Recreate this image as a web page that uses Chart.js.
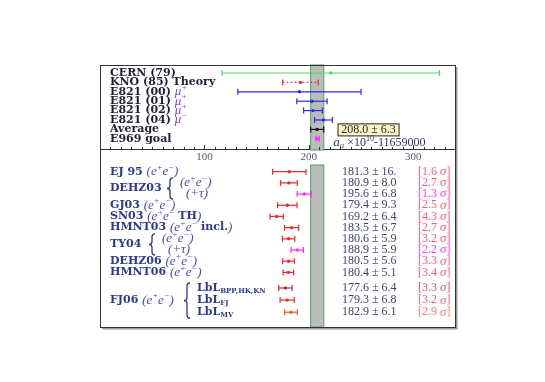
<!DOCTYPE html>
<html>
<head>
<meta charset="utf-8">
<script src="https://cdn.jsdelivr.net/npm/chart.js@4.4.0/dist/chart.umd.min.js"></script>
<style>
html, body { margin: 0; padding: 0; background: #fff; }
#wrap { width: 545px; height: 382px; }
</style>
</head>
<body>
<div id="wrap"><canvas id="g2Chart" width="545" height="382"></canvas></div>
<script>
// measurements (upper block)
let topNames = ["CERN (79)", "KNO (85) Theory", "E821 (00)", "E821 (01)", "E821 (02)", "E821 (04)", "Average", "E969 goal"]
let topMu = ["", "", "+", "+", "+", "−", "", ""]
let topValues = [221, 192, 191, 203, 204, 214, 208, 208.3]
let topErrors = [104, 17, 59, 14.5, 9, 8.5, 6.3, 1.6]
let topColors = ["#4ddd4d", "#ee2a2a", "#2a2aee", "#2a2aee", "#2a2aee", "#2a2aee", "#111111", "#ff2aff"]
let average = 208.0
let averageErr = 6.3

// theory predictions (lower block)
let bottomValues = [181.3, 180.9, 195.6, 179.4, 169.2, 183.5, 180.6, 188.9, 180.5, 180.4, 177.6, 179.3, 182.9]
let bottomErrors = [16, 8.0, 6.8, 9.3, 6.4, 6.7, 5.9, 5.9, 5.6, 5.1, 6.4, 6.8, 6.1]
let bottomSigma = [1.6, 2.7, 1.3, 2.5, 4.3, 2.7, 3.2, 2.2, 3.3, 3.4, 3.3, 3.2, 2.9]
let bottomColors = ["#ee2a2a", "#ee2a2a", "#ff2aff", "#ee2a2a", "#ee2a2a", "#ee2a2a", "#ee2a2a", "#ff2aff", "#ee2a2a", "#ee2a2a", "#a83838", "#ee2a2a", "#ff5a30"]
let sigmaColors = ["#ff5a78", "#ff5a78", "#ff3cff", "#ff5a78", "#ff5a78", "#ff5a78", "#ff5a78", "#ff3cff", "#ff5a78", "#ff5a78", "#c85a78", "#ff5a78", "#ff7a68"]

let xTicks = [100, 200, 300]

// row positions on the hidden y scale
let axisRow = 8.19
function bottomRow(j) {
    return j < 10 ? 10.5 + 1.19 * j : 22.87 + 1.29 * (j - 10)
}

let navy = "#2c3896"
let ink = "#1e1e3a"
let lightBlue = "#4a4ac0"
let bold = "bold 11px 'DejaVu Serif'"
let ital = "italic 13px 'Liberation Serif'"
let supItal = "italic 8.5px 'Liberation Serif'"
let roman = "12px 'Liberation Serif'"

function rich(ctx, x, y, segs) {
    ctx.textBaseline = "middle"
    ctx.textAlign = "left"
    segs.forEach(s => {
        ctx.font = s.f
        ctx.fillStyle = s.c
        ctx.fillText(s.t, x, y + (s.dy || 0))
        x += ctx.measureText(s.t).width
    })
    return x
}

// "(e+e-" pieces with real superscripts
function eeSegs(close) {
    let s = [
        { t: "(e", f: ital, c: lightBlue },
        { t: "+", f: supItal, c: lightBlue, dy: -4 },
        { t: "e", f: ital, c: lightBlue },
        { t: "−", f: supItal, c: lightBlue, dy: -4 }
    ]
    if (close) s.push({ t: ")", f: ital, c: lightBlue })
    return s
}

function brace(ctx, x, y0, y1, color) {
    let ym = (y0 + y1) / 2
    ctx.save()
    ctx.strokeStyle = color
    ctx.lineWidth = 1.3
    ctx.beginPath()
    ctx.moveTo(x + 3, y0)
    ctx.quadraticCurveTo(x, y0, x, y0 + 3)
    ctx.lineTo(x, ym - 3)
    ctx.quadraticCurveTo(x, ym, x - 3, ym)
    ctx.quadraticCurveTo(x, ym, x, ym + 3)
    ctx.lineTo(x, y1 - 3)
    ctx.quadraticCurveTo(x, y1, x + 3, y1)
    ctx.stroke()
    ctx.restore()
}

let g2Layers = {
    id: "g2Layers",
    beforeDatasetsDraw(chart) {
        let ctx = chart.ctx
        let xs = chart.scales.x
        let ys = chart.scales.y
        let a = chart.chartArea
        let xl = xs.getPixelForValue(average - averageErr)
        let xr = xs.getPixelForValue(average + averageErr)
        let yAxis = ys.getPixelForValue(axisRow)
        let yLow = ys.getPixelForValue(9.79)
        ctx.save()
        // average band
        ctx.fillStyle = "#bcbcbc"
        ctx.strokeStyle = "#5fae74"
        ctx.lineWidth = 1.2
        ctx.fillRect(xl, a.top, xr - xl, yAxis - a.top)
        ctx.strokeRect(xl, a.top, xr - xl, yAxis - a.top)
        ctx.fillRect(xl, yLow, xr - xl, a.bottom - yLow)
        ctx.strokeRect(xl, yLow, xr - xl, a.bottom - yLow)
        // frame with shadow
        ctx.fillStyle = "#9a9a9a"
        ctx.fillRect(a.right, a.top + 2, 2.5, a.bottom - a.top)
        ctx.fillRect(a.left + 2, a.bottom, a.right - a.left + 0.5, 2.5)
        ctx.strokeStyle = "#333"
        ctx.lineWidth = 1
        ctx.strokeRect(a.left + 0.5, a.top + 0.5, a.right - a.left, a.bottom - a.top)
        // error bars
        chart.data.datasets.forEach(ds => {
            ds.data.forEach((p, i) => {
                let x0 = xs.getPixelForValue(p.x - ds.errors[i])
                let x1 = xs.getPixelForValue(p.x + ds.errors[i])
                let y = ys.getPixelForValue(p.y)
                ctx.strokeStyle = ds.barColors[i]
                ctx.lineWidth = 1.2
                ctx.setLineDash(ds.dashed && ds.dashed[i] ? [1.5, 2.5] : [])
                ctx.beginPath()
                ctx.moveTo(x0, y)
                ctx.lineTo(x1, y)
                ctx.stroke()
                ctx.setLineDash([])
                ctx.beginPath()
                ctx.moveTo(x0, y - 3)
                ctx.lineTo(x0, y + 3)
                ctx.moveTo(x1, y - 3)
                ctx.lineTo(x1, y + 3)
                ctx.stroke()
            })
        })
        ctx.restore()
    },
    afterDraw(chart) {
        let ctx = chart.ctx
        let xs = chart.scales.x
        let ys = chart.scales.y
        let yAxis = ys.getPixelForValue(axisRow)
        ctx.save()
        // ticks pointing up
        ctx.strokeStyle = "#333"
        ctx.lineWidth = 1
        xs.ticks.forEach((t, i) => {
            let px = Math.round(xs.getPixelForTick(i)) + 0.5
            let len = t.value % 100 === 0 ? 5 : 3
            ctx.beginPath()
            ctx.moveTo(px, yAxis)
            ctx.lineTo(px, yAxis - len)
            ctx.stroke()
        })
        // upper labels
        let left = chart.chartArea.left + 10
        topNames.forEach((n, i) => {
            let y = ys.getPixelForValue(i)
            let segs = [{ t: n + " ", f: bold, c: ink }]
            if (topMu[i]) {
                segs.push({ t: "μ", f: ital, c: "#8a3cf0" })
                segs.push({ t: topMu[i], f: supItal, c: "#8a3cf0", dy: -4 })
            }
            rich(ctx, left, y, segs)
        })
        // average box
        let bx = xs.getPixelForValue(227.5)
        let by = ys.getPixelForValue(6)
        ctx.fillStyle = "#fbf5c6"
        ctx.fillRect(bx, by - 6, 61, 12)
        ctx.strokeStyle = "#222"
        ctx.lineWidth = 1
        ctx.strokeRect(bx + 0.5, by - 5.5, 61, 12)
        ctx.font = roman
        ctx.fillStyle = "#222"
        ctx.textAlign = "center"
        ctx.textBaseline = "middle"
        ctx.fillText(average.toFixed(1) + " ± " + averageErr.toFixed(1), bx + 31, by + 0.5)
        // axis caption
        let ay = ys.getPixelForValue(7.4)
        let ax = xs.getPixelForValue(223.5)
        rich(ctx, ax, ay, [
            { t: "a", f: ital, c: "#2e3068" },
            { t: "μ", f: supItal, c: "#2e3068", dy: 3 },
            { t: " ×10", f: roman, c: "#2e3068" },
            { t: "10", f: "8px 'Liberation Serif'", c: "#2e3068", dy: -4 },
            { t: "-11659000", f: roman, c: "#2e3068" }
        ])
        // lower labels
        let r = j => ys.getPixelForValue(bottomRow(j))
        let tau = [{ t: "(+", f: ital, c: lightBlue }, { t: "τ", f: ital, c: lightBlue }, { t: ")", f: ital, c: lightBlue }]
        rich(ctx, left, r(0), [{ t: "EJ 95 ", f: bold, c: navy }].concat(eeSegs(true)))
        rich(ctx, left, (r(1) + r(2)) / 2, [{ t: "DEHZ03", f: bold, c: navy }])
        brace(ctx, 170, r(1) - 5, r(2) + 5, navy)
        rich(ctx, 180, r(1), eeSegs(true))
        rich(ctx, 186, r(2), tau)
        rich(ctx, left, r(3), [{ t: "GJ03 ", f: bold, c: navy }].concat(eeSegs(true)))
        rich(ctx, left, r(4), [{ t: "SN03 ", f: bold, c: navy }].concat(eeSegs(false), [{ t: " TH", f: bold, c: navy }, { t: ")", f: ital, c: lightBlue }]))
        rich(ctx, left, r(5), [{ t: "HMNT03 ", f: bold, c: navy }].concat(eeSegs(false), [{ t: " incl.", f: bold, c: navy }, { t: ")", f: ital, c: lightBlue }]))
        rich(ctx, left, (r(6) + r(7)) / 2, [{ t: "TY04", f: bold, c: navy }])
        brace(ctx, 152, r(6) - 5, r(7) + 5, navy)
        rich(ctx, 162, r(6), eeSegs(true))
        rich(ctx, 168, r(7), tau)
        rich(ctx, left, r(8), [{ t: "DEHZ06 ", f: bold, c: navy }].concat(eeSegs(true)))
        rich(ctx, left, r(9), [{ t: "HMNT06 ", f: bold, c: navy }].concat(eeSegs(true)))
        rich(ctx, left, r(11), [{ t: "FJ06 ", f: bold, c: navy }].concat(eeSegs(true)))
        brace(ctx, 187, r(10) - 5, r(12) + 6, navy)
        let subs = ["BPP,HK,KN", "FJ", "MV"]
        subs.forEach((s, k) => {
            rich(ctx, 197, r(10 + k), [{ t: "LbL", f: bold, c: navy }, { t: s, f: "bold 7px 'DejaVu Serif'", c: navy, dy: 3 }])
        })
        // value and significance columns
        bottomValues.forEach((v, j) => {
            let e = bottomErrors[j]
            let txt = v.toFixed(1) + " ± " + (e >= 10 ? e + "." : e.toFixed(1))
            rich(ctx, 342, r(j), [{ t: txt, f: roman, c: "#3e4270" }])
            rich(ctx, 418, r(j), [
                { t: "[" + bottomSigma[j].toFixed(1) + " ", f: roman, c: sigmaColors[j] },
                { t: "σ", f: ital, c: sigmaColors[j] },
                { t: "]", f: roman, c: sigmaColors[j] }
            ])
        })
        ctx.restore()
    }
}

let topData = topValues.map((v, i) => ({ x: v, y: i }))
let bottomData = bottomValues.map((v, j) => ({ x: v, y: bottomRow(j) }))

let myChart = document.getElementById("g2Chart").getContext("2d")
let chart = new Chart(myChart, {
    type: "scatter",
    data: {
        datasets: [{
            data: topData,
            errors: topErrors,
            barColors: topColors,
            dashed: [false, true, false, false, false, false, false, false],
            pointBackgroundColor: topColors,
            pointBorderWidth: 0,
            pointRadius: 1.7
        },
        {
            data: bottomData,
            errors: bottomErrors,
            barColors: bottomColors,
            pointBackgroundColor: bottomColors,
            pointBorderWidth: 0,
            pointRadius: 1.7
        }]
    },
    options: {
        responsive: false,
        animation: false,
        layout: { padding: { left: 100, right: 90, top: 65, bottom: 55 } },
        plugins: {
            legend: { display: false },
            tooltip: { enabled: false }
        },
        scales: {
            x: {
                type: "linear",
                position: { y: axisRow },
                min: 0,
                max: 340,
                grid: { display: false, drawTicks: false },
                border: { display: true, color: "#333", width: 1 },
                ticks: {
                    stepSize: 10,
                    autoSkip: false,
                    maxRotation: 0,
                    padding: 1,
                    color: "#5a5a72",
                    font: { family: "Liberation Serif", size: 11 },
                    callback: v => xTicks.includes(v) ? String(v) : ""
                }
            },
            y: {
                type: "linear",
                display: false,
                reverse: true,
                min: -0.85,
                max: 27.02
            }
        }
    },
    plugins: [g2Layers]
})
</script>
</body>
</html>
